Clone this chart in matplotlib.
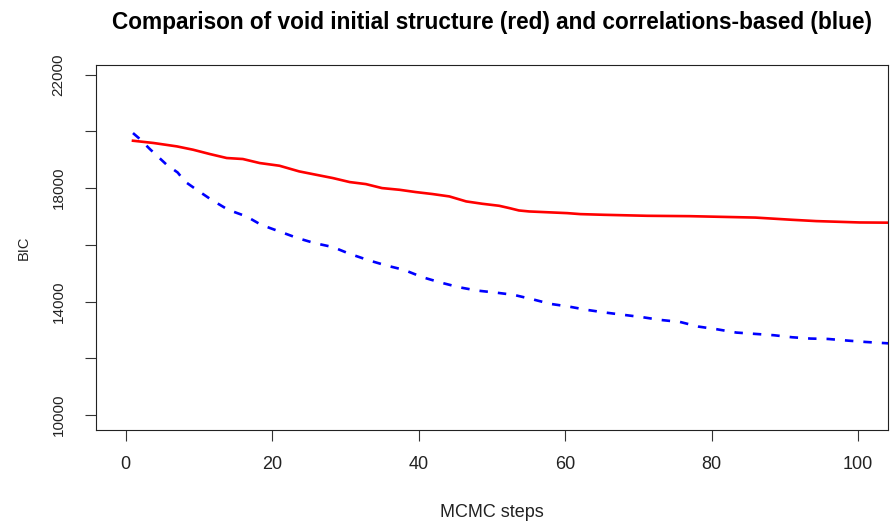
import numpy as np
import matplotlib.pyplot as plt

plt.switch_backend('agg')  # no display
plt.rcParams['font.family'] = ['Liberation Sans', 'DejaVu Sans']

# BIC along the MCMC run, void initial structure (red)
red_steps = [1, 3.8, 7, 9.2, 11.5, 13.8, 16, 18.3, 21, 23.7, 26, 28.3, 30.6,
             32.8, 35, 37.4, 39.6, 41.9, 44.2, 46.5, 48.7, 51, 52.4, 53.7,
             55.1, 60.3, 62.1, 65.3, 71.2, 77, 86, 91, 94.3, 100.2, 104.5]
red_bic = [19670, 19590, 19470, 19353, 19200, 19060, 19025, 18883, 18788,
           18588, 18470, 18353, 18212, 18141, 18000, 17940, 17860, 17790,
           17706, 17530, 17447, 17376, 17294, 17211, 17176, 17117, 17082,
           17058, 17023, 17010, 16960, 16882, 16836, 16788, 16780]

# correlations-based initial structure (blue)
blue_steps = [1, 1.9, 3.3, 5.6, 7.1, 8.1, 9.7, 11.7, 14, 16.5, 18.5, 21, 23.5,
              25.8, 28.3, 30.6, 33.3, 35.6, 38, 40.5, 43, 45.5, 48, 50.5, 53,
              55.5, 58, 60.5, 63, 65.5, 68, 70.5, 73, 75.7, 78.2, 80.7, 83.4,
              86, 88.5, 91, 93.5, 95.9, 98.7, 101, 104.5]
blue_bic = [19940, 19740, 19377, 18823, 18550, 18230, 17940, 17590, 17235,
            17000, 16705, 16470, 16235, 16060, 15920, 15680, 15445, 15270,
            15117, 14860, 14670, 14505, 14386, 14316, 14235, 14083, 13917,
            13823, 13705, 13611, 13530, 13450, 13352, 13280, 13117, 13023,
            12905, 12858, 12812, 12740, 12694, 12680, 12620, 12575, 12520]

x_ticks = [0, 20, 40, 60, 80, 100]
y_ticks = [10000, 12000, 14000, 16000, 18000, 20000, 22000]
y_labels = ['10000', '', '14000', '', '18000', '', '22000']

fig = plt.figure(figsize=(8.9, 5.23), dpi=100)
ax = fig.add_axes([96 / 890, 1 - 430 / 523, 792 / 890, 365 / 523])

ax.plot(red_steps, red_bic, color='#ff0000', lw=1.9)
ax.plot(blue_steps, blue_bic, color='#0000ff', lw=1.9, linestyle=(0, (3.2, 3.8)))

ax.set_xlim(-4.05, 104.1)
ax.set_ylim(9470, 22340)

ax.set_xticks(x_ticks)
ax.set_xticklabels([str(t) for t in x_ticks], fontsize=13, color='#222222')
ax.set_yticks(y_ticks)
ax.set_yticklabels(y_labels, fontsize=11, rotation=90, va='center', color='#222222')
ax.tick_params(direction='out', length=8, width=0.8, color='#333333')
ax.tick_params(axis='x', pad=11)
ax.tick_params(axis='y', pad=14)

for s in ax.spines.values():
    s.set_linewidth(0.8)
    s.set_color('#222222')

ax.set_xlabel('MCMC steps', fontsize=13, labelpad=22, color='#222222')
ax.set_ylabel('BIC', fontsize=10.5, labelpad=15, color='#222222')
ax.set_title('Comparison of void initial structure (red) and correlations-based (blue)',
             fontsize=16.3, fontweight='bold', pad=26)

fig.savefig('out.png', dpi=100)
